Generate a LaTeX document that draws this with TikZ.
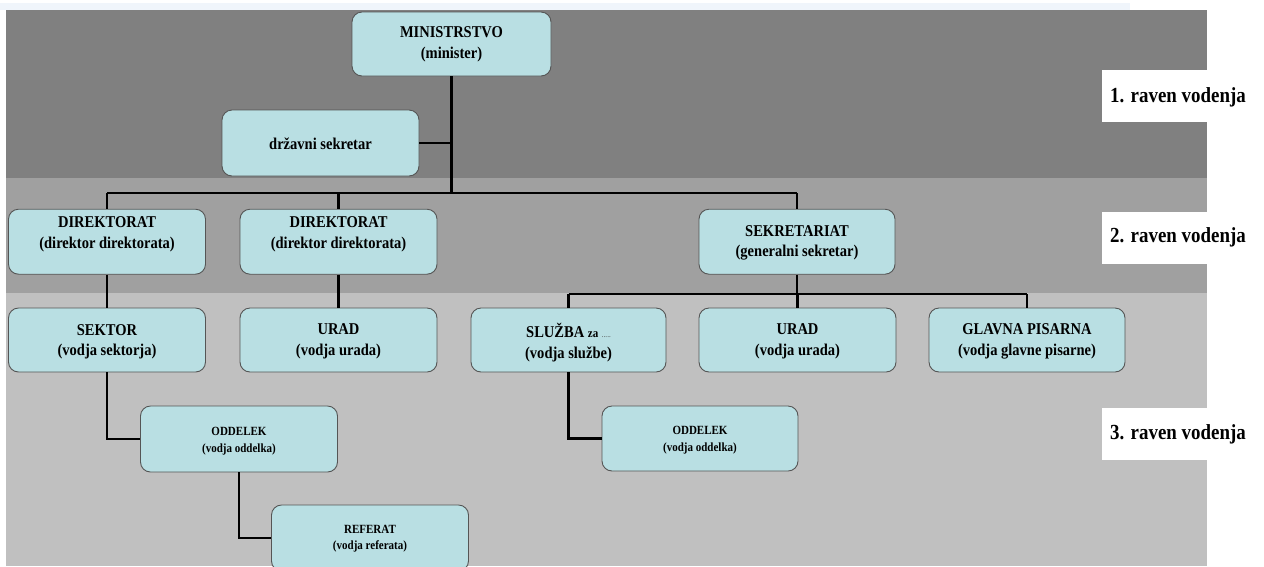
\documentclass[tikz,border=0pt]{standalone}
\usepackage{fontspec}
\setmainfont{Liberation Serif}
\newfontfamily\narrowserif{Liberation Serif}[FakeStretch=0.88]
\newfontfamily\levelserif{Liberation Serif}[FakeStretch=0.88]
\usetikzlibrary{calc}
\definecolor{bandA}{RGB}{128,128,128}
\definecolor{bandB}{RGB}{160,160,160}
\definecolor{bandC}{RGB}{192,192,192}
\definecolor{boxfill}{RGB}{185,223,227}
\definecolor{boxline}{RGB}{85,85,85}
\definecolor{topstrip}{RGB}{240,245,251}
\newcommand{\unitfont}{\narrowserif\fontsize{16.5}{20.5}\selectfont\bfseries}
\newcommand{\subunitfont}{\narrowserif\fontsize{12.5}{16.5}\selectfont\bfseries}
\newcommand{\levelfont}{\levelserif\fontsize{21.5}{24}\selectfont\bfseries}
\begin{document}
\begin{tikzpicture}[x=1pt,y=-1pt,
  unit/.style={draw=boxline, fill=boxfill, line width=0.9pt, rounded corners=10pt,
               inner sep=0pt, minimum width=197pt, minimum height=65pt},
  unittext/.style={font=\unitfont, align=center, inner sep=0pt},
  subtext/.style={font=\subunitfont, align=center, inner sep=0pt},
  leveltext/.style={font=\levelfont, anchor=west, inner sep=0pt},
  conn/.style={draw=black, line width=2.4pt}]
\useasboundingbox (0,0) rectangle (1264,566);
\fill[white] (0,0) rectangle (1264,566);
\fill[topstrip] (0,3) rectangle (1130,10);

% management level bands
\fill[bandA] (6,10) rectangle (1207,178);
\fill[bandB] (6,178) rectangle (1207,293);
\fill[bandC] (6,293) rectangle (1207,566);

% level captions
\fill[white] (1102,70) rectangle (1207,122);
\fill[white] (1102,212) rectangle (1207,264);
\fill[white] (1102,408) rectangle (1207,460);
\node[leveltext] (lv1) at (1110,97) {1. raven vodenja};
\node[leveltext] (lv2) at (1110,237) {2. raven vodenja};
\node[leveltext] (lv3) at (1110,434) {3. raven vodenja};

% organisational units
\node[unit, minimum width=199pt, minimum height=64pt] (min) at (451.5,44) {};
\node[unit, minimum height=66pt] (ds) at (320.5,143) {};
\node[unit] (d1) at (107,241.7) {};
\node[unit] (d2) at (338.5,241.7) {};
\node[unit, minimum width=196pt] (sek) at (797,241.7) {};
\node[unit, minimum height=64pt] (sektor) at (107,340) {};
\node[unit, minimum height=64pt] (urad1) at (338.5,340) {};
\node[unit, minimum width=195pt, minimum height=64pt] (sluzba) at (568.5,340) {};
\node[unit, minimum height=64pt] (urad2) at (797.5,340) {};
\node[unit, minimum width=196pt, minimum height=64pt] (glavna) at (1027,340) {};
\node[unit, minimum height=66pt] (odd1) at (239,439) {};
\node[unit, minimum width=196pt] (odd2) at (700,438.5) {};
\node[unit, minimum height=66pt] (ref) at (370,538) {};

% unit captions
\node[unittext] (mint) at (451.5,44.5) {MINISTRSTVO\\(minister)};
\node[unittext] (dst) at (320.5,144) {državni sekretar};
\node[unittext] (d1t) at (107,234.5) {DIREKTORAT\\(direktor direktorata)};
\node[unittext] (d2t) at (338.5,234.5) {DIREKTORAT\\(direktor direktorata)};
\node[unittext] (sekt) at (797,243) {SEKRETARIAT\\(generalni sekretar)};
\node[unittext] (sektort) at (107,342) {SEKTOR\\(vodja sektorja)};
\node[unittext] (urad1t) at (338.5,341.5) {URAD\\(vodja urada)};
\node[unittext] (sluzbat) at (568.5,342.5) {SLUŽBA {\fontsize{12.5}{12}\selectfont za} {\fontsize{8}{8}\selectfont\mdseries\color{darkgray}.....}\\(vodja službe)};
\node[unittext] (urad2t) at (797.5,341.5) {URAD\\(vodja urada)};
\node[unittext] (glavnat) at (1027,341.5) {GLAVNA PISARNA\\(vodja glavne pisarne)};
\node[subtext] (odd1t) at (239,441) {ODDELEK\\(vodja oddelka)};
\node[subtext] (odd2t) at (700,440) {ODDELEK\\(vodja oddelka)};
\node[subtext] (reft) at (370,538.5) {REFERAT\\(vodja referata)};

% reporting lines
\coordinate (busA) at (451.5,193);
\coordinate (busB) at (797,294);
\draw[conn] (min.south) -- (busA);
\draw[conn] (ds.east) -- (ds.east -| min.south);
\draw[conn] (d1.north |- busA) -- (sek.north |- busA);
\draw[conn] (d1.north |- busA) -- (d1.north);
\draw[conn] (d2.north |- busA) -- (d2.north);
\draw[conn] (sek.north |- busA) -- (sek.north);
\draw[conn] (d1.south) -- (sektor.north);
\draw[conn] (d2.south) -- (urad1.north);
\draw[conn] (sek.south) -- (busB);
\draw[conn] (sluzba.north |- busB) -- (glavna.north |- busB);
\draw[conn] (sluzba.north |- busB) -- (sluzba.north);
\draw[conn] (urad2.north |- busB) -- (urad2.north);
\draw[conn] (glavna.north |- busB) -- (glavna.north);
\draw[conn] (sektor.south) |- (odd1.west);
\draw[conn] (odd1.south) |- (ref.west);
\draw[conn] (sluzba.south) |- (odd2.west);
\end{tikzpicture}
\end{document}
